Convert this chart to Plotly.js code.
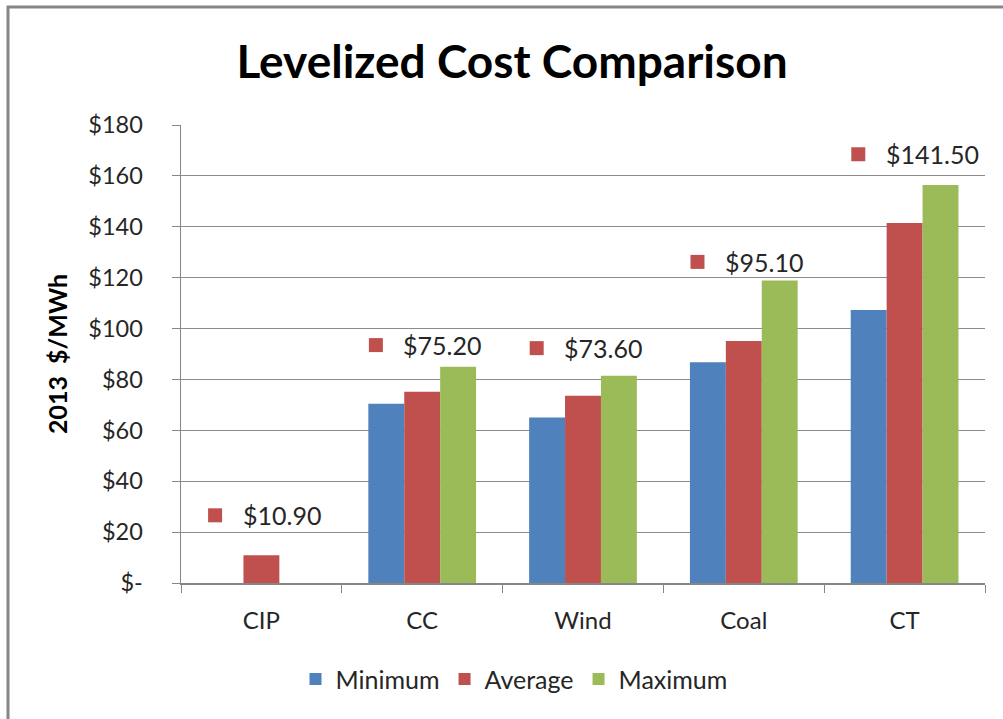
<!DOCTYPE html>
<html>
<head>
<meta charset="utf-8">
<script src="https://cdn.plot.ly/plotly-3.0.1.min.js"></script>
<style>
html,body{margin:0;padding:0;background:#fff;overflow:hidden;}
#chart{width:1003px;height:719px;}
</style>
</head>
<body>
<div id="chart"></div>
<script>
// ---- data ----
const categories = ["CIP", "CC", "Wind", "Coal", "CT"];
const minimum = [0, 70.4, 65.0, 86.8, 107.3];
const average = [10.9, 75.2, 73.6, 95.1, 141.5];
const maximum = [0, 85.0, 81.5, 118.9, 156.4];
const labelHeights = [26.6, 93.5, 92.3, 126.2, 168.5];
const yTickVals = [0, 20, 40, 60, 80, 100, 120, 140, 160, 180];
const yTickText = ["$-", "$20", "$40", "$60", "$80", "$100", "$120", "$140", "$160", "$180"];
const seriesNames = ["Minimum", "Average", "Maximum"];

const colors = ["#4f81bd", "#c0504d", "#9bbb59"];
const FONT = "Lato, 'Open Sans', sans-serif";

const fmt = v => "$" + v.toFixed(2);

const traces = [minimum, average, maximum].map((vals, i) => ({
  type: "bar",
  name: seriesNames[i],
  x: categories,
  y: vals,
  marker: {color: colors[i]},
  hoverinfo: "x+y"
}));

// label keys (red squares) on hidden linear axis
const keyOffset = -0.288;
traces.push({
  type: "scatter",
  mode: "markers",
  x: categories.map((c, i) => i + keyOffset),
  y: labelHeights,
  xaxis: "x2",
  yaxis: "y",
  marker: {symbol: "square", size: 14, color: colors[1]},
  showlegend: false,
  hoverinfo: "skip"
});

const annotations = categories.map((c, i) => ({
  xref: "x2", yref: "y",
  x: i - 0.13, y: labelHeights[i],
  text: fmt(average[i]),
  showarrow: false,
  xanchor: "left", yanchor: "middle",
  font: {family: FONT, size: 25, color: "#262626"}
}));

const layout = {
  width: 1003, height: 719,
  paper_bgcolor: "#fff", plot_bgcolor: "#fff",
  margin: {l: 181, r: 18, t: 125, b: 136},
  font: {family: FONT, size: 23, color: "#262626"},
  title: {
    text: "<b>Levelized Cost Comparison</b>",
    font: {family: FONT, size: 46, color: "#000"},
    x: 512 / 1003, xanchor: "center", xref: "container",
    y: 1 - 62 / 719, yanchor: "middle", yref: "container"
  },
  barmode: "group",
  bargap: 0.33,
  bargroupgap: 0,
  xaxis: {
    type: "category",
    showline: true, linecolor: "#868686", linewidth: 1.5,
    ticks: "outside", tickson: "boundaries", ticklen: 8, tickcolor: "#868686",
    ticklabelstandoff: 16,
    tickfont: {family: FONT, size: 24, color: "#262626"},
    showgrid: false, zeroline: false
  },
  xaxis2: {
    overlaying: "x", range: [-0.5, 4.5], visible: false, fixedrange: true
  },
  yaxis: {
    range: [0, 180],
    tickvals: yTickVals, ticktext: yTickText,
    showline: true, linecolor: "#868686", linewidth: 1.5,
    ticks: "outside", ticklen: 8, tickcolor: "#868686",
    ticklabelstandoff: 24,
    showgrid: true, gridcolor: "#8c8c8c", gridwidth: 1,
    zeroline: false,
    tickfont: {family: FONT, size: 23.5, color: "#262626"},
    title: {text: "<b>2013  $/MWh</b>", font: {family: FONT, size: 25, color: "#000"}, standoff: 13}
  },
  legend: {
    orientation: "h",
    x: (514 - 181) / 804, xanchor: "center",
    y: -0.21, yanchor: "middle",
    font: {family: FONT, size: 25, color: "#262626"},
    itemwidth: 30,
    traceorder: "normal"
  },
  annotations: annotations,
  shapes: [{
    type: "rect", xref: "paper", yref: "paper", layer: "below",
    x0: (8 - 181) / 804, x1: 1.1, y0: -0.5, y1: 1 + (125 - 7) / 457.7,
    line: {color: "#868686", width: 3}, fillcolor: "rgba(0,0,0,0)"
  }],
  showlegend: true
};

Plotly.newPlot("chart", traces, layout, {displayModeBar: false, staticPlot: true});
</script>
</body>
</html>
